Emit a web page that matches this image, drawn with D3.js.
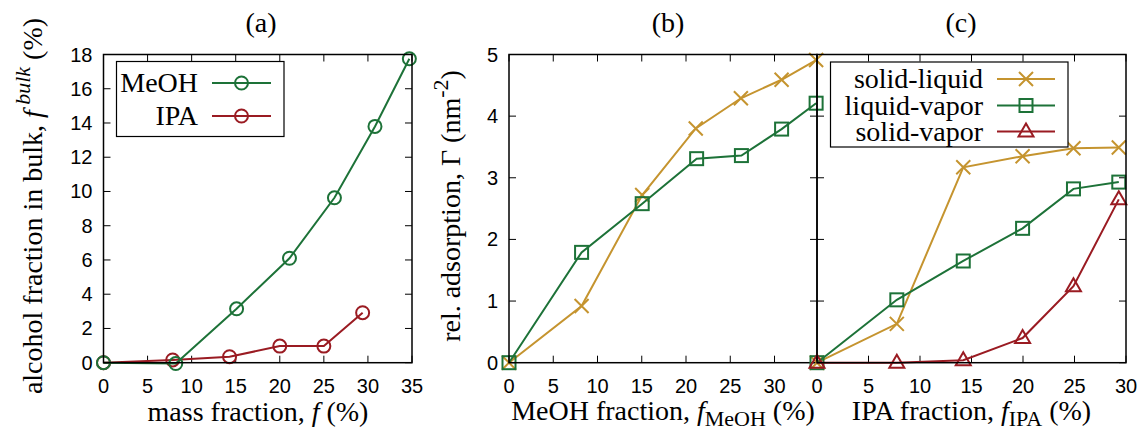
<!DOCTYPE html>
<html>
<head>
<meta charset="utf-8">
<script src="https://cdn.jsdelivr.net/npm/d3@7"></script>
<style>
  body { margin: 0; background: #fff; }
  text.tick { font-family: "Liberation Sans", Arial, sans-serif; font-size: 20px; }
  text.lab { font-family: "Liberation Serif", "Times New Roman", serif; font-size: 28px; }
</style>
</head>
<body>
<svg width="1141" height="432"></svg>
<script>
// panel (a): bulk fraction vs mass fraction
var meohMass = [0, 8.2, 15.1, 21.1, 26.2, 30.8, 34.7],
    meohBulk = [0, -0.05, 3.15, 6.1, 9.63, 13.8, 17.75];
var ipaMass = [0, 7.85, 14.3, 20.0, 25.0, 29.4],
    ipaBulk = [0, 0.16, 0.35, 0.97, 0.97, 2.92];

// panel (b): MeOH
var meohFrac = [0, 8.2, 15.05, 21.1, 26.2, 30.8, 34.7],
    meohSL = [0, 0.92, 2.72, 3.8, 4.29, 4.59, 4.91],
    meohLVx = [0, 8.2, 15.05, 21.2, 26.26, 30.8, 34.7],
    meohLV = [0, 1.79, 2.58, 3.31, 3.36, 3.79, 4.21];

// panel (c): IPA
var ipaFrac = [0, 7.75, 14.2, 19.96, 24.9, 29.3],
    ipaSL = [0, 0.63, 3.17, 3.35, 3.48, 3.49],
    ipaLV = [0, 1.02, 1.65, 2.18, 2.82, 2.93],
    ipaSV = [0, 0, 0.04, 0.4, 1.24, 2.65];

var ticksA = [0, 5, 10, 15, 20, 25, 30, 35],
    ticksAy = [0, 2, 4, 6, 8, 10, 12, 14, 16, 18],
    ticksBx = [0, 5, 10, 15, 20, 25, 30],
    ticksBy = [0, 1, 2, 3, 4, 5],
    ticksCx = [0, 5, 10, 15, 20, 25, 30];

var green = "#1d7238", red = "#9a1b22", gold = "#c5942f";

var svg = d3.select("svg");
var plotTop = 54.5, plotBottom = 362.7;

function zip(xs, ys) { return xs.map(function(x, i) { return [x, ys[i]]; }); }

function marker(g, type, x, y, color) {
  if (type == "circle") {
    g.append("circle").attr("cx", x).attr("cy", y).attr("r", 6.5)
      .attr("fill", "none").attr("stroke", color).attr("stroke-width", 2);
  } else if (type == "square") {
    g.append("rect").attr("x", x - 6.5).attr("y", y - 6.5).attr("width", 13).attr("height", 13)
      .attr("fill", "none").attr("stroke", color).attr("stroke-width", 2);
  } else if (type == "cross") {
    g.append("path").attr("d", "M" + (x-7) + "," + (y-7) + "L" + (x+7) + "," + (y+7) + "M" + (x-7) + "," + (y+7) + "L" + (x+7) + "," + (y-7))
      .attr("stroke", color).attr("stroke-width", 2);
  } else if (type == "tri") {
    g.append("path").attr("d", "M" + x + "," + (y-8) + "L" + (x+7.5) + "," + (y+5) + "L" + (x-7.5) + "," + (y+5) + "Z")
      .attr("fill", "none").attr("stroke", color).attr("stroke-width", 2);
  }
}

function series(g, x, y, pts, color, type) {
  var line = d3.line().x(function(d) { return x(d[0]); }).y(function(d) { return y(d[1]); });
  g.append("path").datum(pts).attr("d", line).attr("fill", "none")
    .attr("stroke", color).attr("stroke-width", 2);
  pts.forEach(function(d) { marker(g, type, x(d[0]), y(d[1]), color); });
}

function frame(x, y, xt, yt, showY) {
  var g = svg.append("g");
  var x0 = x.range()[0], x1 = x.range()[1];
  xt.forEach(function(t) {
    g.append("line").attr("x1", x(t)).attr("x2", x(t)).attr("y1", plotBottom).attr("y2", plotBottom - 7).attr("stroke", "#000");
    g.append("line").attr("x1", x(t)).attr("x2", x(t)).attr("y1", plotTop).attr("y2", plotTop + 7).attr("stroke", "#000");
    g.append("text").attr("class", "tick").attr("x", x(t)).attr("y", 393).attr("text-anchor", "middle").text(t);
  });
  yt.forEach(function(t) {
    g.append("line").attr("x1", x0).attr("x2", x0 + 7).attr("y1", y(t)).attr("y2", y(t)).attr("stroke", "#000");
    g.append("line").attr("x1", x1).attr("x2", x1 - 7).attr("y1", y(t)).attr("y2", y(t)).attr("stroke", "#000");
    if (showY) g.append("text").attr("class", "tick").attr("x", x0 - 11).attr("y", y(t) + 7).attr("text-anchor", "end").text(t);
  });
  return g;
}

function box(x) {
  svg.append("rect").attr("x", x.range()[0]).attr("y", plotTop)
    .attr("width", x.range()[1] - x.range()[0]).attr("height", plotBottom - plotTop)
    .attr("fill", "none").attr("stroke", "#000").attr("stroke-width", 1.5);
}

function legend(x0, y0, w, h, textX, lineX0, lineX1, rows) {
  var g = svg.append("g");
  g.append("rect").attr("x", x0).attr("y", y0).attr("width", w).attr("height", h)
    .attr("fill", "#fff").attr("stroke", "#000").attr("stroke-width", 1.2);
  rows.forEach(function(r) {
    g.append("text").attr("class", "lab").attr("x", textX).attr("y", r.y + 9)
      .attr("text-anchor", "end").text(r.name);
    g.append("line").attr("x1", lineX0).attr("x2", lineX1).attr("y1", r.y).attr("y2", r.y)
      .attr("stroke", r.color).attr("stroke-width", 2);
    marker(g, r.type, (lineX0 + lineX1) / 2, r.y, r.color);
  });
}

// ---- panel (a)
var xa = d3.scaleLinear().domain([0, 35]).range([103.5, 412]),
    ya = d3.scaleLinear().domain([0, 18]).range([plotBottom, plotTop]);
frame(xa, ya, ticksA, ticksAy, true);
var ga = svg.append("g");
series(ga, xa, ya, zip(ipaMass, ipaBulk), red, "circle");
series(ga, xa, ya, zip(meohMass, meohBulk), green, "circle");
box(xa);
legend(116.5, 61.5, 167.5, 75, 198, 212, 271, [
  {name: "MeOH", y: 83, color: green, type: "circle"},
  {name: "IPA", y: 116, color: red, type: "circle"}
]);

// ---- panel (b)
var xb = d3.scaleLinear().domain([0, 34.8]).range([509, 817]),
    yb = d3.scaleLinear().domain([0, 5]).range([plotBottom, plotTop]);
frame(xb, yb, ticksBx, ticksBy, true);
var gb = svg.append("g");
series(gb, xb, yb, zip(meohFrac, meohSL), gold, "cross");
series(gb, xb, yb, zip(meohLVx, meohLV), green, "square");
box(xb);

// ---- panel (c)
var xc = d3.scaleLinear().domain([0, 30]).range([817, 1126]),
    yc = d3.scaleLinear().domain([0, 5]).range([plotBottom, plotTop]);
frame(xc, yc, ticksCx, ticksBy, false);
var gc = svg.append("g");
series(gc, xc, yc, zip(ipaFrac, ipaSL), gold, "cross");
series(gc, xc, yc, zip(ipaFrac, ipaLV), green, "square");
series(gc, xc, yc, zip(ipaFrac, ipaSV), red, "tri");
box(xc);
legend(830.5, 62, 237.5, 85, 983, 997, 1055, [
  {name: "solid-liquid", y: 79, color: gold, type: "cross"},
  {name: "liquid-vapor", y: 105.5, color: green, type: "square"},
  {name: "solid-vapor", y: 131.5, color: red, type: "tri"}
]);

// ---- titles and axis labels
[["(a)", 261], ["(b)", 668], ["(c)", 961]].forEach(function(t) {
  svg.append("text").attr("class", "lab").attr("x", t[1]).attr("y", 32).attr("text-anchor", "middle").text(t[0]);
});

var lx = svg.append("text").attr("class", "lab").attr("x", 258).attr("y", 421).attr("text-anchor", "middle");
lx.append("tspan").text("mass fraction, ");
lx.append("tspan").attr("font-style", "italic").text("f");
lx.append("tspan").text(" (%)");

var lb = svg.append("text").attr("class", "lab").attr("x", 663).attr("y", 420).attr("text-anchor", "middle");
lb.append("tspan").text("MeOH fraction, ");
lb.append("tspan").attr("font-style", "italic").text("f");
lb.append("tspan").attr("font-size", "22px").attr("dy", 6).text("MeOH");
lb.append("tspan").attr("dy", -6).text(" (%)");

var lc = svg.append("text").attr("class", "lab").attr("x", 971.5).attr("y", 420).attr("text-anchor", "middle");
lc.append("tspan").text("IPA fraction, ");
lc.append("tspan").attr("font-style", "italic").text("f");
lc.append("tspan").attr("font-size", "22px").attr("dy", 6).text("IPA");
lc.append("tspan").attr("dy", -6).text(" (%)");

var ly = svg.append("text").attr("class", "lab").attr("text-anchor", "middle")
  .attr("transform", "translate(42,206) rotate(-90)");
ly.append("tspan").text("alcohol fraction in bulk, ");
ly.append("tspan").attr("font-style", "italic").text("f");
ly.append("tspan").attr("font-style", "italic").attr("font-size", "22px").attr("dy", -12).text(" bulk");
ly.append("tspan").attr("dy", 12).text(" (%)");

var ly2 = svg.append("text").attr("class", "lab").attr("text-anchor", "middle")
  .attr("transform", "translate(460,206) rotate(-90)");
ly2.append("tspan").text("rel. adsorption, Γ (nm");
ly2.append("tspan").attr("font-size", "22px").attr("dy", -12).text("-2");
ly2.append("tspan").attr("dy", 12).text(")");
</script>
</body>
</html>
